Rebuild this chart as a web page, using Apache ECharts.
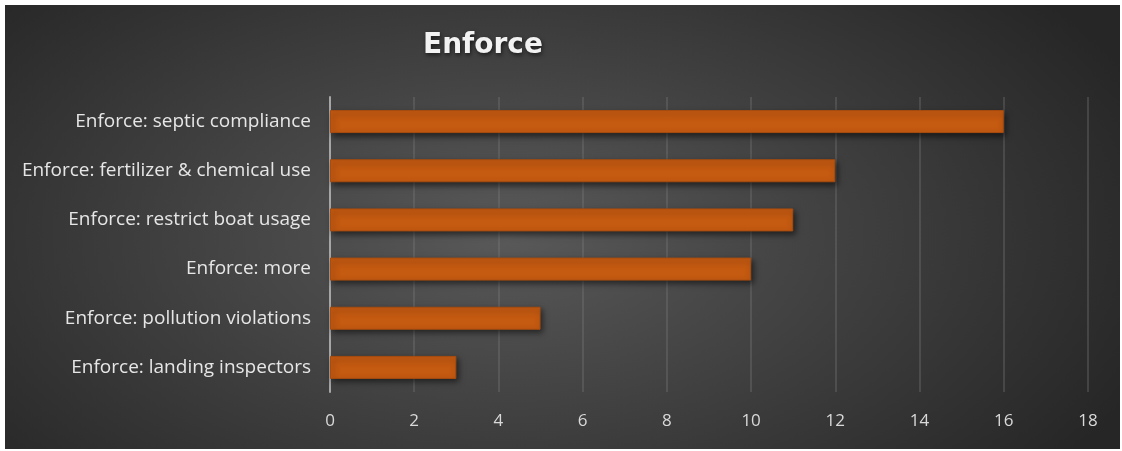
<!DOCTYPE html>
<html>
<head>
<meta charset="utf-8">
<script src="https://cdn.jsdelivr.net/npm/echarts@6/dist/echarts.min.js"></script>
<style>
  html, body { margin: 0; padding: 0; background: #ffffff; }
  #chart {
    position: absolute; left: 5px; top: 5px; width: 1115px; height: 444px;
    background: radial-gradient(ellipse 62% 85% at 45% 52%, #595959 0%, #474747 35%, #262626 100%);
  }
</style>
</head>
<body>
<div id="chart"></div>
<script>
// categories top to bottom
const categories = [
  'Enforce: septic compliance',
  'Enforce: fertilizer & chemical use',
  'Enforce: restrict boat usage',
  'Enforce: more',
  'Enforce: pollution violations',
  'Enforce: landing inspectors'
];
const counts = [16, 12, 11, 10, 5, 3];

const chart = echarts.init(document.getElementById('chart'));

// 图表配置
const option = {
  backgroundColor: 'transparent',
  animation: false,
  title: {
    text: 'Enforce',
    left: 413,
    top: 22,
    textStyle: {
      color: '#f2f2f2',
      fontFamily: 'DejaVu Sans',
      fontWeight: 'bold',
      fontSize: 28,
      textShadowColor: 'rgba(0,0,0,0.6)',
      textShadowBlur: 4,
      textShadowOffsetX: 1,
      textShadowOffsetY: 2
    }
  },
  grid: {
    left: 325,
    right: 32,
    top: 92,
    bottom: 57,
    containLabel: false
  },
  xAxis: {
    type: 'value',
    min: 0,
    max: 18,
    interval: 2,
    axisLine: { show: false },
    axisTick: { show: false },
    axisLabel: {
      color: '#d9d9d9',
      fontFamily: 'Open Sans',
      fontSize: 17,
      margin: 21
    },
    splitLine: {
      show: true,
      lineStyle: { color: 'rgba(130,130,130,0.3)', width: 2 }
    }
  },
  yAxis: {
    type: 'category',
    data: categories,
    inverse: true,
    axisLine: { show: true, lineStyle: { color: '#a6a6a6', width: 2 } },
    axisTick: { show: false },
    axisLabel: {
      color: '#e6e6e6',
      fontFamily: 'Open Sans',
      fontSize: 19,
      margin: 19
    }
  },
  series: [{
    type: 'bar',
    data: counts,
    barWidth: 23,
    itemStyle: {
      color: '#c55a11',
      borderColor: '#a94c0e',
      borderWidth: 1,
      shadowColor: 'rgba(0,0,0,0.55)',
      shadowBlur: 6,
      shadowOffsetX: 2,
      shadowOffsetY: 3
    }
  }]
};

chart.setOption(option);
</script>
</body>
</html>
